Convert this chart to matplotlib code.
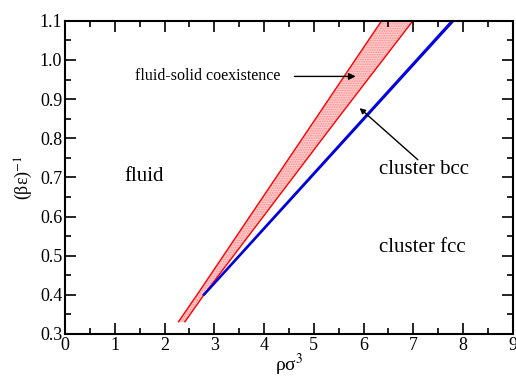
import matplotlib
matplotlib.use('Agg')
import matplotlib.pyplot as plt
import numpy as np

# fluid-solid coexistence band (edges)
band_y = [0.331, 0.405, 0.847, 1.10]
band_left = [2.28, 2.68, 5.02, 6.36]
band_right = [2.41, 2.82, 5.46, 6.99]

# cluster bcc / cluster fcc boundary (two nearly overlapping lines)
bcc_fcc_y = [0.40, 1.10]
bcc_fcc_x1 = [2.78, 7.77]
bcc_fcc_x2 = [2.80, 7.81]

plt.rcParams['font.family'] = ['Liberation Serif', 'DejaVu Serif']
plt.rcParams['mathtext.fontset'] = 'stix'
plt.rcParams['hatch.linewidth'] = 0.8

fig = plt.figure(figsize=(5.16, 3.79), dpi=100)
ax = fig.add_axes([0.126, 0.119, 0.868, 0.826])

# band: pink dotted fill with red edges
ax.fill_betweenx(band_y, band_left, band_right, facecolor='#ffcccc',
                 edgecolor='#ff8c8c', hatch='.......', linewidth=0)
ax.plot(band_left, band_y, color='red', lw=1)
ax.plot(band_right, band_y, color='red', lw=1)

ax.plot(bcc_fcc_x1, bcc_fcc_y, color='blue', lw=1.3)
ax.plot(bcc_fcc_x2, bcc_fcc_y, color='#0000cc', lw=1.3)

ax.set_xlim(0, 9)
ax.set_ylim(0.3, 1.1)
ax.set_xticks(np.arange(0, 10, 1))
ax.set_xticks(np.arange(0, 9.01, 0.5), minor=True)
ax.set_yticks(np.arange(0.3, 1.101, 0.1))
ax.set_yticks(np.arange(0.3, 1.101, 0.05), minor=True)
ax.set_yticklabels(['%.1f' % v for v in np.arange(0.3, 1.101, 0.1)])
ax.tick_params(which='both', direction='in', top=True, right=True,
               labelsize=13, width=1.2, pad=2)
ax.tick_params(which='major', length=8)
ax.tick_params(which='minor', length=4)
for s in ax.spines.values():
    s.set_linewidth(1.5)

ax.set_xlabel('ρσ$^{3}$', fontsize=14, labelpad=-1)
ax.set_ylabel('(βε)$^{-1}$', fontsize=13, labelpad=3)

ax.text(1.6, 0.702, 'fluid', fontsize=15, ha='center', va='center')
ax.text(7.21, 0.719, 'cluster bcc', fontsize=15, ha='center', va='center')
ax.text(7.18, 0.52, 'cluster fcc', fontsize=15, ha='center', va='center')

ax.annotate('fluid-solid coexistence', xy=(5.84, 0.958), xytext=(1.41, 0.958),
            fontsize=11.5, ha='left', va='center',
            arrowprops=dict(arrowstyle='-|>', color='black', lw=1,
                            mutation_scale=10, shrinkA=8, shrinkB=0))
ax.annotate('', xy=(5.92, 0.877), xytext=(7.09, 0.745),
            arrowprops=dict(arrowstyle='-|>', color='black', lw=1,
                            mutation_scale=8, shrinkA=0, shrinkB=0))

fig.savefig('out.png', dpi=100)
